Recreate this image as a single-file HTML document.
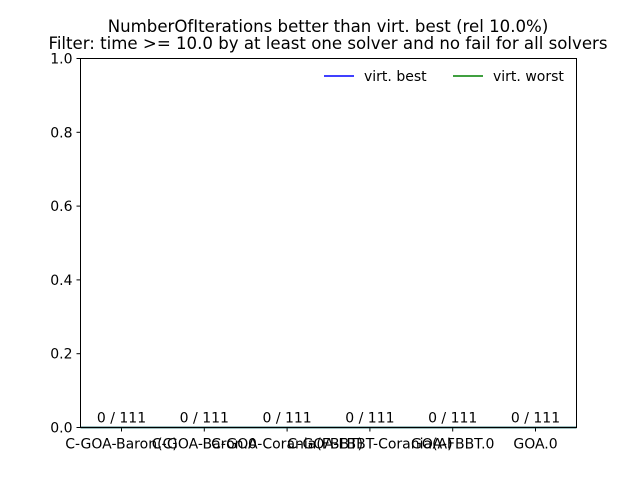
<!DOCTYPE html>
<html><head><meta charset="utf-8"><style>
body{margin:0;background:#fff;}
text{font-family:"DejaVu Sans","Liberation Sans",sans-serif;}
</style></head><body>
<svg id="chart" width="640" height="480" xmlns="http://www.w3.org/2000/svg">
<rect width="640" height="480" fill="#fff"/>
<text x="328" y="32" font-size="16.6" text-anchor="middle">NumberOfIterations better than virt. best (rel 10.0%)</text>
<text x="328" y="49" font-size="16.6" text-anchor="middle">Filter: time &gt;= 10.0 by at least one solver and no fail for all solvers</text>
<g id="plot"></g>
<rect x="80.5" y="58.5" width="496" height="369" fill="none" stroke="#000" stroke-width="1"/>
<g>
<line x1="324" y1="76" x2="354" y2="76" stroke="#0000ff" stroke-width="1.6"/>
<text x="364" y="81" font-size="14">virt. best</text>
<line x1="453" y1="76" x2="483" y2="76" stroke="#008000" stroke-width="1.6"/>
<text x="493" y="81" font-size="14">virt. worst</text>
</g>
</svg>
<script>
const categories=["C-GOA-Baron(C)","C-GOA-Baron.0","C-GOA-Corania(FBBT)","C-GOA-FBBT-Corania(A)","GOA-FBBT.0","GOA.0"];
const values=[0,0,0,0,0,0];
const totals=[111,111,111,111,111,111];
const yTicks=[0,0.2,0.4,0.6,0.8,1.0];
const yTickLabels=["0.0","0.2","0.4","0.6","0.8","1.0"];
const virtBest=0, virtWorst=0;
const L=80.5,R=576.5,T=58.5,B=427.5;
const NS="http://www.w3.org/2000/svg";
const g=document.getElementById('plot');
function y(v){return B-(v-0)/(1-0)*(B-T);}
function x(i){return L+41+i*(R-L-82)/(categories.length-1);}
function mk(t,a){const e=document.createElementNS(NS,t);for(const k in a)e.setAttribute(k,a[k]);g.appendChild(e);return e;}
yTicks.forEach((v,i)=>{
 const tk=mk('line',{x1:L-4,x2:L,y1:y(v),y2:y(v),stroke:'#000'});
 
 
 const t=mk('text',{x:L-8,y:y(v)+5,'font-size':14,'text-anchor':'end'});
 t.textContent=yTickLabels[i];
 
 
});
categories.forEach((c,i)=>{
 const cx=x(i);
 const bw=60;
 const bar=mk('rect',{x:cx-bw/2,y:y(values[i]/totals[i]),width:bw,height:B-y(values[i]/totals[i]),fill:'#1f77b4'});
 
 
 const tk=mk('line',{x1:cx,x2:cx,y1:B,y2:B+4,stroke:'#000'});
 
 
 const lab=mk('text',{x:cx,y:B+21,'font-size':14,'text-anchor':'middle'});
 lab.textContent=c;
 
 
 const vl=mk('text',{x:cx,y:y(values[i]/totals[i])-5,'font-size':14,'text-anchor':'middle'});
 vl.textContent=values[i]+' / '+totals[i];
 
 
});
const lb=mk('line',{x1:L,x2:R,y1:y(virtBest),y2:y(virtBest),stroke:'#0000ff','stroke-width':1.5});


const lw=mk('line',{x1:L,x2:R,y1:y(virtWorst),y2:y(virtWorst),stroke:'#008000','stroke-width':1.5});


</script>
</body></html>
